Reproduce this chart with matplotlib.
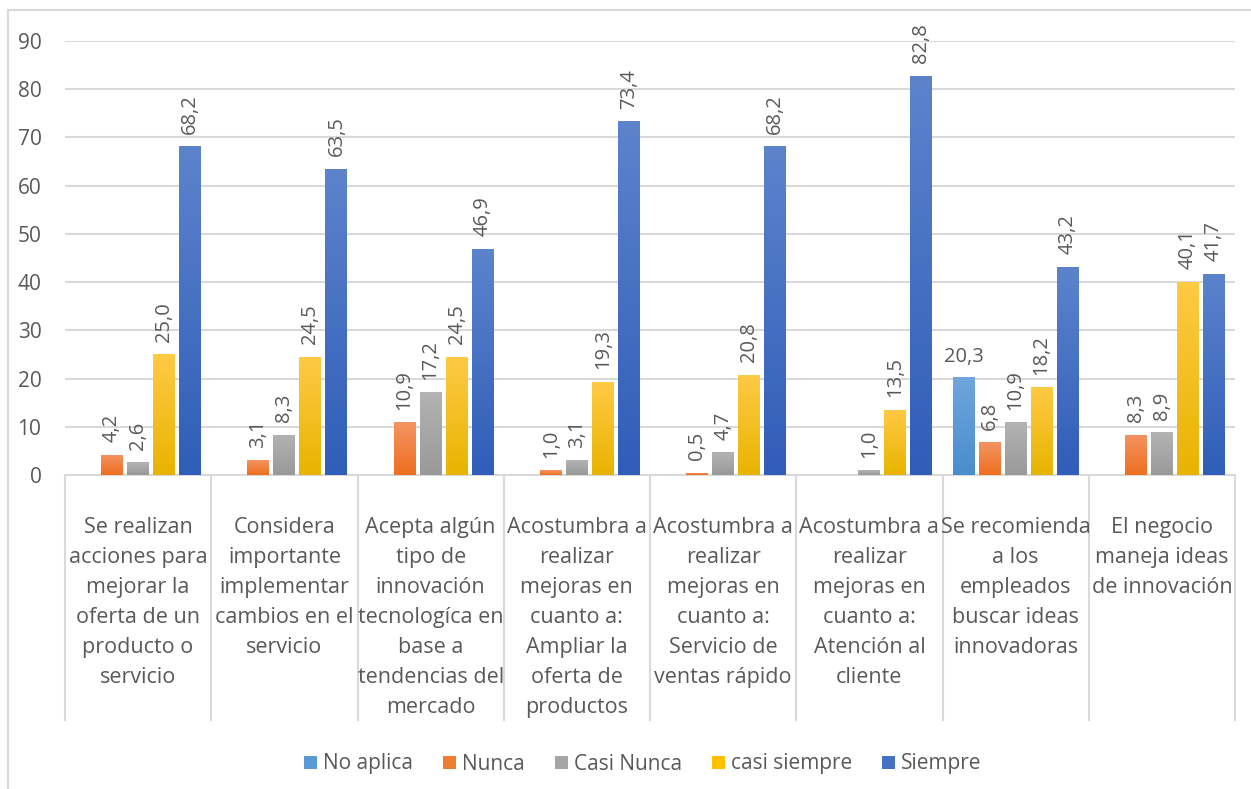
import numpy as np
import matplotlib
matplotlib.use("Agg")
import matplotlib.pyplot as plt
from matplotlib.colors import LinearSegmentedColormap
from matplotlib.lines import Line2D
from matplotlib.patches import Patch

plt.rcParams['font.family'] = ['Open Sans', 'DejaVu Sans']

categories = [
    "Se realizan\nacciones para\nmejorar la\noferta de un\nproducto o\nservicio",
    "Considera\nimportante\nimplementar\ncambios en el\nservicio",
    "Acepta algún\ntipo de\ninnovación\ntecnologíca en\nbase a\ntendencias del\nmercado",
    "Acostumbra a\nrealizar\nmejoras en\ncuanto a:\nAmpliar la\noferta de\nproductos",
    "Acostumbra a\nrealizar\nmejoras en\ncuanto a:\nServicio de\nventas rápido",
    "Acostumbra a\nrealizar\nmejoras en\ncuanto a:\nAtención al\ncliente",
    "Se recomienda\na los\nempleados\nbuscar ideas\ninnovadoras",
    "El negocio\nmaneja ideas\nde innovación",
]
series_names = ["No aplica", "Nunca", "Casi Nunca", "casi siempre", "Siempre"]
no_aplica = [None, None, None, None, None, None, 20.3, None]
nunca = [4.2, 3.1, 10.9, 1.0, 0.5, None, 6.8, 8.3]
casi_nunca = [2.6, 8.3, 17.2, 3.1, 4.7, 1.0, 10.9, 8.9]
casi_siempre = [25.0, 24.5, 24.5, 19.3, 20.8, 13.5, 18.2, 40.1]
siempre = [68.2, 63.5, 46.9, 73.4, 68.2, 82.8, 43.2, 41.7]
yticks = [0, 10, 20, 30, 40, 50, 60, 70, 80, 90]

series_values = [no_aplica, nunca, casi_nunca, casi_siempre, siempre]
# (top colour, bottom colour, legend colour)
grad_colors = [
    ("#6fa6dd", "#4a8ccd", "#5b9bd5"),
    ("#f49463", "#ee6f1f", "#ed7d31"),
    ("#b3b3b3", "#999999", "#a5a5a5"),
    ("#ffca45", "#e8b400", "#ffc000"),
    ("#5d83cc", "#2f5db8", "#4472c4"),
]
text_color = "#595959"
grid_color = "#d9d9d9"

W, H = 1251, 789
fig = plt.figure(figsize=(W / 100, H / 100), dpi=100)
ax_l, ax_r, ax_b, ax_t = 65, 1235, 475, 41
ax = fig.add_axes([ax_l / W, 1 - ax_b / H, (ax_r - ax_l) / W, (ax_b - ax_t) / H])

n = len(categories)
x = np.arange(n)
bw = 0.15
step = 0.178
for si, vals in enumerate(series_values):
    top_c, bot_c, _ = grad_colors[si]
    cmap = LinearSegmentedColormap.from_list("g%d" % si, [bot_c, top_c])
    offset = (si - 2) * step
    for ci, v in enumerate(vals):
        if v is None:
            continue
        xc = x[ci] + offset
        bars = ax.bar(xc, v, width=bw, color=bot_c, zorder=3, linewidth=0)
        rect = bars[0]
        grad = np.linspace(0, 1, 256).reshape(-1, 1)
        im = ax.imshow(grad, cmap=cmap, origin="lower", aspect="auto",
                       extent=[xc - bw / 2, xc + bw / 2, 0, v], zorder=3.5)
        im.set_clip_path(rect)
        label = ("%.1f" % v).replace(".", ",")
        if si == 0:
            ax.annotate(label, (xc, v), xytext=(0, 7), textcoords="offset points",
                        ha="center", va="bottom", fontsize=14.5, color=text_color, zorder=5)
        else:
            ax.annotate(label, (xc, v), xytext=(0, 9), textcoords="offset points",
                        ha="center", va="bottom", rotation=90, fontsize=14.5,
                        color=text_color, zorder=5)

ax.set_xlim(-0.5, n - 0.5)
ax.set_ylim(0, 90)
ax.set_yticks(yticks)
ax.set_yticklabels([str(t) for t in yticks])
ax.tick_params(axis="y", length=0, pad=17, labelsize=15, labelcolor=text_color)
ax.set_xticks([])
for s in ["left", "right", "top"]:
    ax.spines[s].set_visible(False)
ax.spines["bottom"].set_color(grid_color)
ax.spines["bottom"].set_linewidth(1.5)
ax.yaxis.grid(True, color=grid_color, linewidth=1.5, zorder=0)
ax.set_axisbelow(True)

# category separators and labels
trans = ax.get_xaxis_transform()
y_low = (ax_b - 720) / (ax_b - ax_t)
for b in np.arange(-0.5, n, 1.0):
    ax.add_line(Line2D([b, b], [0, y_low], transform=trans, color=grid_color,
                       linewidth=1.5, clip_on=False))
y_text = (ax_b - 517) / (ax_b - ax_t)
for ci, lab in enumerate(categories):
    ax.text(x[ci], y_text, lab, transform=trans, ha="center", va="top",
            fontsize=15.5, color=text_color, linespacing=1.56, multialignment="center")

# legend
handles = [Patch(facecolor=c[2], edgecolor="none") for c in grad_colors]
leg = fig.legend(handles, series_names, loc="center", bbox_to_anchor=(643 / W, 1 - 764 / H),
                 ncol=5, frameon=False, fontsize=15, handlelength=0.6, handleheight=0.6,
                 handletextpad=0.3, columnspacing=1.45, labelcolor=text_color)

# chart border (left and top)
fig.add_artist(Line2D([8 / W, 8 / W], [0, 1 - 10 / H], transform=fig.transFigure,
                      color=grid_color, linewidth=1.5))
fig.add_artist(Line2D([8 / W, 1], [1 - 10 / H, 1 - 10 / H], transform=fig.transFigure,
                      color=grid_color, linewidth=1.5))

fig.savefig("out.png", dpi=100)
